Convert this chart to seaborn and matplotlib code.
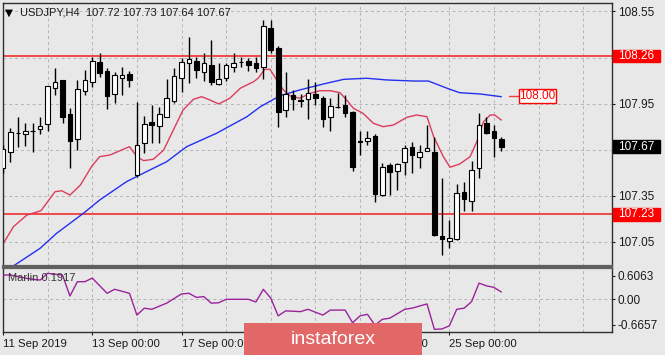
import numpy as np
import pandas as pd
import matplotlib
matplotlib.use("Agg")
import matplotlib.pyplot as plt
from matplotlib import transforms
from matplotlib.patches import Rectangle
import seaborn as sns

# ---------------- data ----------------
opens = [107.531, 107.637, 107.757, 107.752, 107.775, 107.787, 107.815, 108.050, 108.102, 107.880,
         107.722, 108.032, 108.093, 108.219, 108.164, 108.013, 108.119, 108.141, 107.484, 107.692,
         107.832, 107.804, 107.865, 107.969, 108.115, 108.212, 108.229, 108.158, 108.199, 108.078,
         108.115, 108.186, 108.218, 108.229, 108.212, 108.186, 108.440, 108.310, 107.908, 108.006,
         107.975, 107.978, 108.013, 107.985, 107.861, 107.925, 107.941, 107.897, 107.710, 107.707,
         107.739, 107.355, 107.549, 107.514, 107.572, 107.670, 107.605, 107.644, 107.635, 107.089,
         107.056, 107.067, 107.377, 107.316, 107.529, 107.822, 107.772, 107.720]
highs = [107.681, 107.793, 107.861, 107.822, 107.822, 107.865, 108.067, 108.180, 108.104, 107.920,
         108.104, 108.169, 108.255, 108.277, 108.182, 108.158, 108.190, 108.162, 107.960, 107.869,
         107.941, 107.930, 108.110, 108.180, 108.245, 108.385, 108.255, 108.277, 108.364, 108.212,
         108.212, 108.277, 108.255, 108.245, 108.255, 108.494, 108.494, 108.325, 108.154, 108.039,
         108.013, 108.108, 108.093, 108.000, 107.985, 108.017, 108.006, 107.900, 107.774, 107.774,
         107.750, 107.562, 107.562, 107.563, 107.681, 107.702, 107.681, 107.811, 107.733, 107.464,
         107.193, 107.425, 107.442, 107.577, 107.891, 107.865, 107.811, 107.730]
lows = [107.499, 107.572, 107.670, 107.674, 107.637, 107.752, 107.774, 108.006, 107.826, 107.529,
        107.648, 108.006, 108.056, 108.125, 107.917, 107.956, 108.006, 108.060, 107.475, 107.631,
        107.692, 107.692, 107.860, 107.954, 108.028, 108.086, 108.115, 108.099, 108.071, 108.071,
        108.099, 108.158, 108.190, 108.162, 108.158, 108.108, 108.277, 107.796, 107.865, 107.908,
        107.930, 107.848, 107.941, 107.800, 107.774, 107.920, 107.865, 107.514, 107.616, 107.681,
        107.312, 107.350, 107.355, 107.388, 107.486, 107.501, 107.529, 107.640, 107.090, 106.965,
        107.009, 107.060, 107.253, 107.253, 107.464, 107.750, 107.605, 107.640]
closes = [107.655, 107.767, 107.760, 107.774, 107.770, 107.806, 108.063, 108.093, 107.865, 107.709,
          108.043, 108.102, 108.229, 108.147, 107.999, 108.134, 108.134, 108.104, 107.679, 107.817,
          107.811, 107.880, 107.985, 108.132, 108.219, 108.240, 108.169, 108.216, 108.089, 108.108,
          108.199, 108.212, 108.220, 108.199, 108.180, 108.455, 108.299, 107.897, 108.011, 107.978,
          107.970, 108.017, 107.985, 107.848, 107.936, 107.926, 107.887, 107.540, 107.703, 107.728,
          107.362, 107.540, 107.507, 107.557, 107.663, 107.616, 107.637, 107.659, 107.095, 107.067,
          107.074, 107.367, 107.327, 107.518, 107.811, 107.757, 107.724, 107.670]

fast_ma_x = [0, 1.4, 3.2, 5.1, 7.0, 7.9, 9.0, 10.4, 11.9, 13.0, 14.4, 17.0, 18.0, 18.9, 20.2,
             21.6, 22.9, 24.2, 25.6, 26.7, 27.8, 29.0, 30.5, 31.9, 33.7, 34.3, 35.2, 35.9, 36.8,
             37.7, 38.6, 39.9, 41.3, 42.6, 44.0, 45.3, 46.2, 47.1, 48.4, 49.8, 51.1, 52.5, 54.3,
             55.6, 57.0, 57.9, 59.2, 60.1, 61.4, 62.8, 63.7, 64.6, 65.5, 66.1, 67.0]
fast_ma = [107.037, 107.149, 107.225, 107.253, 107.377, 107.383, 107.355, 107.420, 107.540, 107.605,
           107.616, 107.670, 107.605, 107.579, 107.588, 107.648, 107.778, 107.908, 107.978, 107.995,
           107.974, 107.948, 107.985, 108.050, 108.093, 108.115, 108.173, 108.173, 108.104, 108.039,
           108.000, 107.985, 108.017, 108.034, 108.034, 108.021, 107.974, 107.920, 107.887, 107.822,
           107.800, 107.811, 107.861, 107.876, 107.865, 107.735, 107.605, 107.536, 107.557, 107.605,
           107.702, 107.832, 107.876, 107.876, 107.843]

slow_ma_x = [1.4, 5.0, 7.2, 10.8, 13.0, 16.6, 18.4, 22.0, 24.7, 28.7, 32.8, 34.6, 37.2, 39.9,
             43.1, 45.8, 48.9, 51.6, 55.2, 57.2, 59.7, 61.4, 64.1, 67.0]
slow_ma = [106.894, 107.009, 107.106, 107.236, 107.323, 107.442, 107.486, 107.572, 107.670, 107.757,
           107.865, 107.930, 108.000, 108.039, 108.078, 108.108, 108.115, 108.104, 108.097, 108.097,
           108.050, 108.021, 108.013, 107.995]

marlin_x = [0, 1, 3, 4, 5, 6, 8, 9, 10, 11, 12, 14, 15, 17, 18, 19, 20, 22, 24, 25, 26, 27, 28,
            29, 30, 33, 34, 35, 36, 37, 38, 40, 41, 43, 44, 46, 47, 48, 49, 50, 51, 52, 54, 55,
            57, 58, 59, 60, 61, 62, 63, 64, 65, 66, 67]
marlin = [0.63, 0.63, 0.55, 0.52, 0.50, 0.675, 0.63, 0.086, 0.457, 0.457, 0.55, 0.156, 0.26, 0.156,
          -0.41, -0.23, -0.26, -0.10, 0.14, 0.156, 0.05, 0.07, -0.10, -0.09, 0.0, 0.0, -0.07, 0.26,
          0.03, -0.43, -0.30, -0.32, -0.26, -0.41, -0.28, -0.28, -0.61, -0.43, -0.39, -0.67, -0.52,
          -0.49, -0.26, -0.23, -0.12, -0.78, -0.77, -0.69, -0.26, -0.23, -0.06, 0.42, 0.35, 0.31, 0.19]

level_high = 108.26
level_low = 107.23
level_target = 108.00
last_price = 107.67
price_ticks = [108.55, 108.25, 107.95, 107.65, 107.35, 107.05]
price_tick_labels = ["108.55", "", "107.95", "", "107.35", "107.05"]   # two are hidden by boxes
ind_ticks = [0.6063, 0.0, -0.6657]
ind_tick_labels = ["0.6063", "0.00", "-0.6657"]
date_tick_idx = [0, 12, 24, 36, 48, 60]
date_labels = ["11 Sep 2019", "13 Sep 00:00", "17 Sep 00:00", "19 Sep 00:00", "23 Sep 00:00", "25 Sep 00:00"]
title_text = "USDJPY,H4  107.72 107.73 107.64 107.67"
indicator_name = "Marlin 0.1917"
watermark = "instaforex"

# ---------------- style ----------------
BG = "#e8e8e8"
sns.set_theme(style="white", rc={"axes.facecolor": BG, "figure.facecolor": BG})
plt.rcParams["font.family"] = ["Liberation Sans", "DejaVu Sans"]
TXT = "#1a1a1a"
GRID = "#b4b4b4"

W, H = 665, 355
fig = plt.figure(figsize=(W / 100, H / 100), dpi=100, facecolor=BG)


def px_rect(x0, y0, x1, y1):
    return [x0 / W, 1 - y1 / H, (x1 - x0) / W, (y1 - y0) / H]


ax = fig.add_axes(px_rect(3, 3, 612, 266))
axi = fig.add_axes(px_rect(3, 268, 612, 332), sharex=ax)

df = pd.DataFrame({"i": np.arange(len(opens)), "open": opens, "high": highs,
                   "low": lows, "close": closes})
n_slots = 82

# grid
for g in range(0, n_slots + 1, 6):
    ax.axvline(g, color=GRID, lw=0.7, ls=(0, (3, 3)), zorder=0)
    axi.axvline(g, color=GRID, lw=0.7, ls=(0, (3, 3)), zorder=0)
for t in price_ticks:
    ax.axhline(t, color=GRID, lw=0.7, ls=(0, (3, 3)), zorder=0)
axi.axhline(0.0, color=GRID, lw=0.7, ls=(0, (3, 3)), zorder=0)

# support / resistance levels
for lv in (level_high, level_low):
    ax.axhline(lv, color="#f03c3c", lw=1.3, zorder=1)

# moving averages
sns.lineplot(x=fast_ma_x, y=fast_ma, ax=ax, color="#dc3c5c", lw=1.0, zorder=2, estimator=None)
sns.lineplot(x=slow_ma_x, y=slow_ma, ax=ax, color="#2330f0", lw=1.0, zorder=2, estimator=None)

# candles
up = df["close"] >= df["open"]
ax.vlines(df["i"], df["low"], df["high"], color="black", lw=1.0, zorder=3)
body_h = (df["close"] - df["open"]).abs().clip(lower=0.002)
ax.bar(df["i"], body_h, bottom=np.minimum(df["open"], df["close"]), width=0.62,
       color=np.where(up, "white", "black"), edgecolor="black", linewidth=0.8, zorder=4)

ax.set_xlim(0, (612 - 3.05) / 7.4375)
ax.set_ylim(106.8935, 108.6047)

# price axis on the right
ax.yaxis.tick_right()
ax.set_yticks(price_ticks)
ax.set_yticklabels(price_tick_labels)
ax.tick_params(axis="y", right=True, length=2.5, width=0.8, pad=2, labelsize=8.5,
               colors=TXT, direction="out")
ax.tick_params(axis="x", bottom=False, labelbottom=False)

# highlighted price boxes on the right scale
bt = transforms.blended_transform_factory(ax.transAxes, ax.transData)
ppx = 153.7
for lv, col in ((level_high, "#ff0000"), (last_price, "#000000"), (level_low, "#ff0000")):
    ax.add_patch(Rectangle((1 + 1 / 609, lv - 6.4 / ppx), 47 / 609, 12.8 / ppx, transform=bt,
                           facecolor=col, edgecolor=col, clip_on=False, zorder=10))
    ax.text(1 + 6 / 609, lv, f"{lv:.2f}", transform=bt, color="white", fontsize=8.5,
            va="center", ha="left", zorder=11, clip_on=False)

# 108.00 target label
ax.plot([68.0, 69.4], [level_target, level_target], color="#f03c3c", lw=1.0, zorder=5, clip_on=False)
ax.add_patch(Rectangle((69.4, level_target - 6.8 / ppx), 4.95, 13.6 / ppx, facecolor="white",
                       edgecolor="#ff0000", lw=1.0, zorder=6))
ax.text(69.4 + 4.95 / 2, level_target, f"{level_target:.2f}", color="#ff0000", fontsize=8.5,
        ha="center", va="center", zorder=7)

# indicator
sns.lineplot(x=marlin_x, y=marlin, ax=axi, color="#9b239b", lw=1.0, zorder=3, estimator=None)
axi.set_ylim(-0.849, 0.813)
axi.yaxis.tick_right()
axi.set_yticks(ind_ticks)
axi.set_yticklabels(ind_tick_labels)
axi.tick_params(axis="y", right=True, length=2.5, width=0.8, pad=1.5, labelsize=8.5,
                colors=TXT, direction="out")
axi.set_xticks(date_tick_idx)
axi.set_xticklabels(date_labels, ha="left")
axi.tick_params(axis="x", bottom=True, length=2.5, width=0.8, pad=2.5, labelsize=8.2,
                colors=TXT, direction="out")
axi.text(5 / 609, (332 - 278) / 64, indicator_name, transform=axi.transAxes,
         fontsize=8, color="#333333", ha="left", va="center", zorder=5)

for a in (ax, axi):
    a.set_xlabel("")
    a.set_ylabel("")
    for s in a.spines.values():
        s.set_color("#303030")
        s.set_linewidth(1.0)
ax.spines["bottom"].set_linewidth(1.6)
ax.spines["bottom"].set_color("#606060")
axi.spines["top"].set_linewidth(1.6)
axi.spines["top"].set_color("#606060")

# title
fig.text(5 / W, 1 - 12.5 / H, "\u25bc", fontsize=7.5, color="black", va="center", ha="left",
         family="DejaVu Sans")
fig.text(20 / W, 1 - 12.5 / H, title_text, fontsize=8, color=TXT, va="center", ha="left")

# watermark
fig.patches.append(Rectangle((244 / W, 0), (422 - 244) / W, (355 - 323) / H,
                             transform=fig.transFigure, facecolor="#e26868", edgecolor="none",
                             zorder=20))
fig.text(333 / W, 1 - 339 / H, watermark, fontsize=14, color="white", ha="center", va="center",
         zorder=21)

fig.savefig("out.png", dpi=100, facecolor=BG)
